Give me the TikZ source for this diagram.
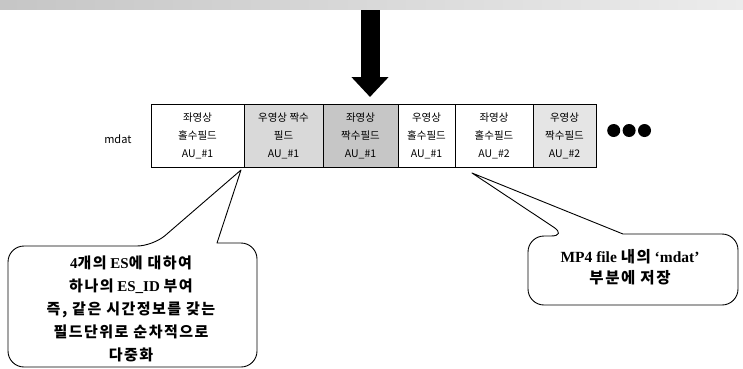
\documentclass[tikz,border=0pt]{standalone}
\usepackage{fontspec}
\setmainfont{Liberation Serif}
\newfontfamily\kr{Noto Sans CJK KR}
\newfontfamily\krsp{Noto Sans CJK KR}[LetterSpace=10]
\usetikzlibrary{arrows.meta, positioning}
\newcommand{\K}[1]{{\krsp\bfseries #1}}

\tikzset{
  aucell/.style={draw, line width=0.8pt, minimum height=63pt,
    inner sep=0pt, outer sep=0pt, align=center, font=\kr\fontsize{10.5}{18}\selectfont},
  audot/.style={circle, fill, inner sep=0pt, minimum size=13pt},
  callout/.style={draw, line width=0.9pt, line join=round},
  calltext/.style={align=center, font=\fontsize{15}{23}\selectfont\bfseries}
}

\begin{document}
\begin{tikzpicture}[x=1pt, y=-1pt, >=Stealth]
  \useasboundingbox (0,0) rectangle (743,368);
  % scan strip on top
  \shade[left color=gray!45, right color=gray!15] (0,0) rectangle (743,9);

  % mdat access units
  \node[aucell, minimum width=93pt] (c1) at (197.5,135.5) {좌영상\\홀수필드\\AU\_\#1};
  \node[aucell, minimum width=79pt, fill=gray!30, right=0pt of c1] (c2) {우영상 짝수\\필드\\AU\_\#1};
  \node[aucell, minimum width=75pt, fill=gray!45, right=0pt of c2] (c3) {좌영상\\짝수필드\\AU\_\#1};
  \node[aucell, minimum width=57pt, right=0pt of c3] (c4) {우영상\\홀수필드\\AU\_\#1};
  \node[aucell, minimum width=78pt, right=0pt of c4] (c5) {좌영상\\홀수필드\\AU\_\#2};
  \node[aucell, minimum width=63pt, fill=gray!20, right=0pt of c5] (c6) {우영상\\짝수필드\\AU\_\#2};
  \node[left=16pt of c1, yshift=-4pt, font=\kr\fontsize{11}{12}\selectfont] (mdat) {mdat};
  \node[audot, right=11pt of c6, yshift=5pt] (d1) {};
  \node[audot, right=2pt of d1] (d2) {};
  \node[audot, right=2pt of d2] (d3) {};

  % big arrow
  \coordinate (tip) at ([xshift=9.5pt,yshift=7pt]c3.north);
  \coordinate (tail) at ([yshift=87pt]tip);
  \draw[line width=19pt, -{Triangle[width=36pt,length=20pt]}] (tail) -- (tip);

  % left callout
  \coordinate (tipL) at ([xshift=-3pt,yshift=-3pt]c1.south east);
  \draw[callout] (217,243) [rounded corners=16pt] -- (257,243) -- (257,367)
    -- (8,367) -- (8,246) -- (153,246) [sharp corners] -- (tipL) -- cycle;
  \node[calltext] (noteL) at (131,309)
    {4\K{개의} ES\K{에 대하여}\\\K{하나의} ES\_ID \K{부여}\\\K{즉, 같은 시간정보를 갖는}\\\K{필드단위로 순차적으로}\\\K{다중화}};

  % right callout
  \coordinate (tipR) at ([xshift=17pt,yshift=-6pt]c5.south west);
  \draw[callout] (623,234) [rounded corners=16pt] -- (738,234) -- (738,305)
    -- (528,305) -- (528,236) -- (567,236) [sharp corners] -- (tipR) -- cycle;
  \node[calltext, font=\fontsize{15.5}{21}\selectfont\bfseries] (noteR) at (630,267)
    {MP4 file \K{내의} ‘mdat’\\\K{부분에 저장}};
\end{tikzpicture}
\end{document}
